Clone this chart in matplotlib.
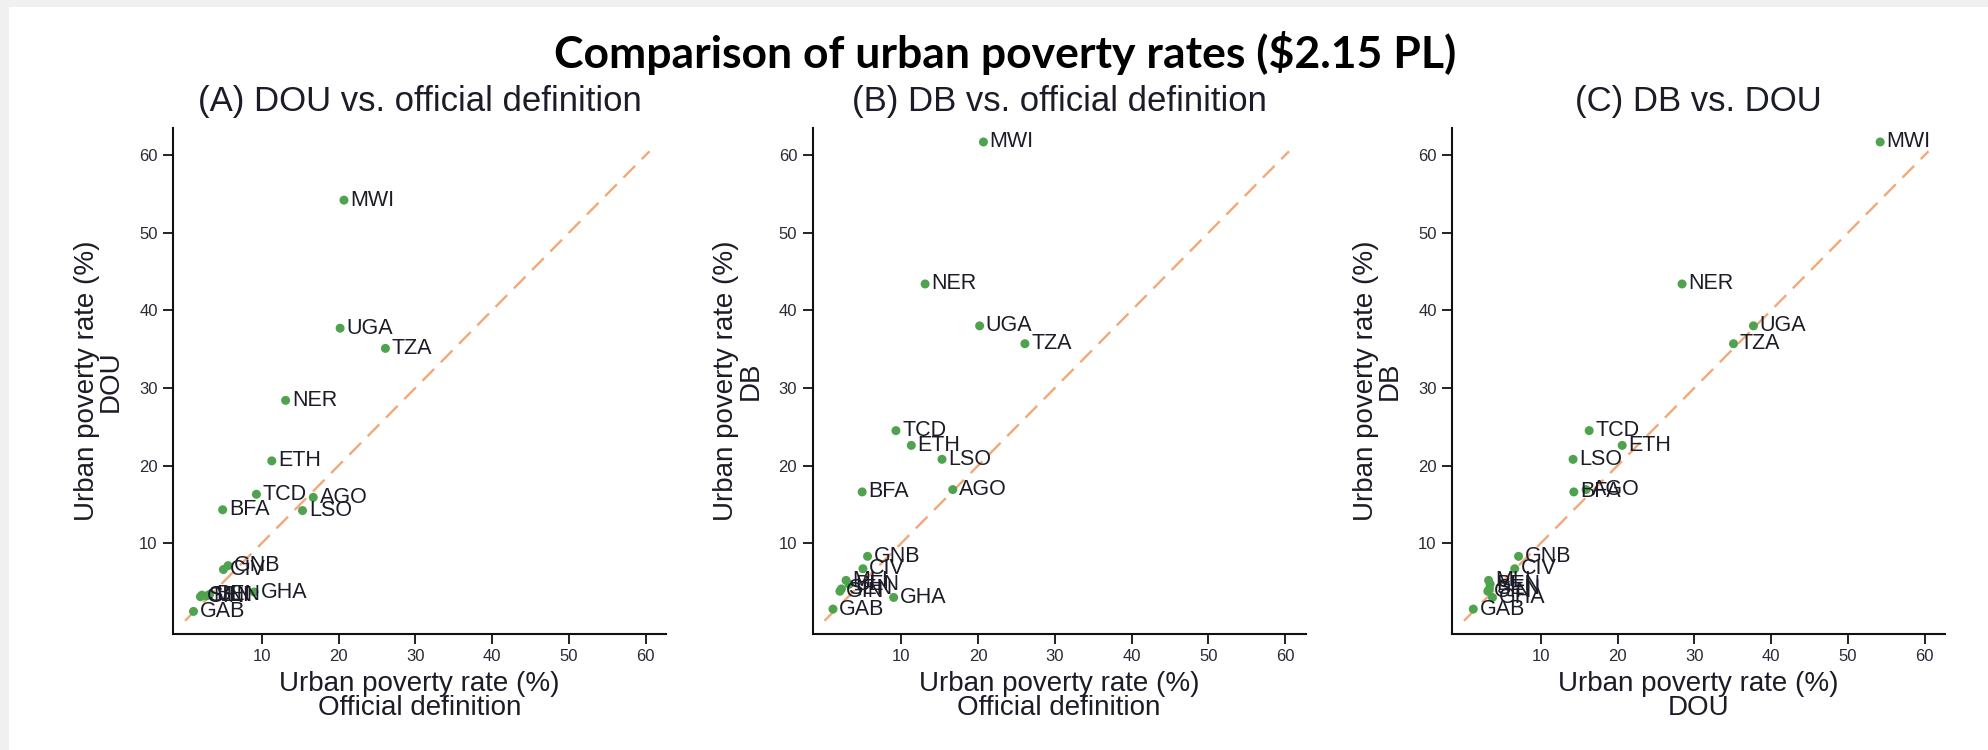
import matplotlib
matplotlib.use("Agg")
import matplotlib.pyplot as plt
from matplotlib.patches import Rectangle

# Urban poverty rates (%) at the $2.15 poverty line, by country
countries = ["MWI", "UGA", "TZA", "NER", "ETH", "TCD", "AGO", "BFA", "LSO",
             "GNB", "CIV", "GHA", "GAB", "MLI", "BEN", "SEN", "GIN"]
official = [20.7, 20.2, 26.1, 13.1, 11.3, 9.3, 16.7, 4.9, 15.3,
            5.6, 5.0, 9.0, 1.1, 2.8, 3.2, 2.2, 2.0]
dou = [54.2, 37.7, 35.1, 28.4, 20.6, 16.3, 15.9, 14.3, 14.2,
       7.1, 6.6, 3.7, 1.2, 3.2, 3.4, 3.3, 3.1]
db = [61.7, 38.0, 35.7, 43.4, 22.6, 24.5, 16.9, 16.6, 20.8,
      8.3, 6.7, 3.0, 1.5, 5.2, 4.7, 4.1, 3.8]

ticks = [10, 20, 30, 40, 50, 60]
diag = [0, 60.5]

panels = [
    ("(A) DOU vs. official definition", official, dou, "Official definition", "DOU"),
    ("(B) DB vs. official definition", official, db, "Official definition", "DB"),
    ("(C) DB vs. DOU", dou, db, "DOU", "DB"),
]

W, H = 1988, 750
fig = plt.figure(figsize=(W / 100, H / 100), dpi=100, facecolor="white")

# light grey slide margins
fig.add_artist(Rectangle((0, 1 - 7 / H), 1, 7 / H, transform=fig.transFigure,
                         facecolor="#f0f0f0", edgecolor="none", zorder=0))
fig.add_artist(Rectangle((0, 0), 8.5 / W, 1, transform=fig.transFigure,
                         facecolor="#f0f0f0", edgecolor="none", zorder=0))

fig.text(1005 / W, 1 - 53 / H, "Comparison of urban poverty rates ($2.15 PL)",
         ha="center", va="center", fontsize=32, fontweight="bold",
         family="Lato", color="black")

lefts = [173, 812.5, 1452]
ax_w = 493
ax_top, ax_bot = 128, 634
green = "#4fa34f"
orange = "#f2a878"
txt = "#1c1c28"
sans = "Liberation Sans"

for left, (title, xs, ys, xname, yname) in zip(lefts, panels):
    ax = fig.add_axes([left / W, 1 - ax_bot / H, ax_w / W, (ax_bot - ax_top) / H])
    ax.set_xlim(-1.57, 62.65)
    ax.set_ylim(-1.71, 63.5)
    ax.plot(diag, diag, color=orange, lw=1.7, dashes=(7, 4), zorder=1)
    ax.scatter(xs, ys, s=42, color=green, edgecolors="none", zorder=3)
    for c, x, y in zip(countries, xs, ys):
        ax.annotate(c, (x, y), xytext=(4.5, 0), textcoords="offset points",
                    ha="left", va="center", fontsize=15.5, family=sans,
                    color=txt, zorder=4)
    for s in ["top", "right"]:
        ax.spines[s].set_visible(False)
    for s in ["left", "bottom"]:
        ax.spines[s].set_linewidth(1.5)
        ax.spines[s].set_color("#111111")
    ax.set_xticks(ticks)
    ax.set_yticks(ticks)
    ax.tick_params(direction="out", length=7, width=1.3, colors="#111111",
                   labelsize=12, labelcolor="#2a2a36", pad=4)
    for lab in ax.get_xticklabels() + ax.get_yticklabels():
        lab.set_family(sans)
    ax.set_title(title, fontsize=25, family=sans, color=txt, pad=12)
    ax.set_xlabel("Urban poverty rate (%)\n" + xname, fontsize=20, family=sans,
                  color=txt, labelpad=5, linespacing=0.9)
    ax.set_ylabel("Urban poverty rate (%)\n" + yname, fontsize=20, family=sans,
                  color=txt, labelpad=11, linespacing=0.9)

fig.savefig("out.png", dpi=100, facecolor=fig.get_facecolor())
